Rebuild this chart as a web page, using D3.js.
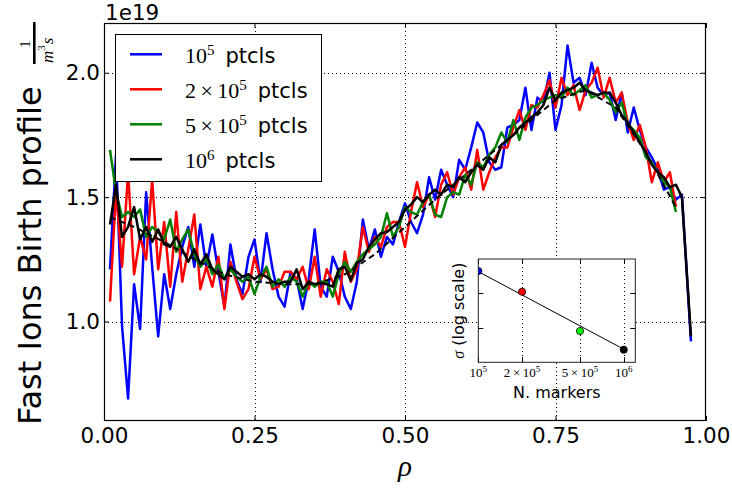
<!DOCTYPE html>
<html><head><meta charset="utf-8">
<script src="https://cdn.jsdelivr.net/npm/d3@7"></script>
<style>body{margin:0;background:#fff} svg{display:block}</style>
</head><body><svg id="c" width="732" height="489"></svg>
<script>
// ---------- data (values in units of 1e19 1/(m^3 s)) ----------
const rho = [0.01,0.02,0.03,0.04,0.05,0.06,0.07,0.08,0.09,0.10,0.11,0.12,0.13,0.14,0.15,0.16,0.17,0.18,0.19,0.20,
0.21,0.22,0.23,0.24,0.25,0.26,0.27,0.28,0.29,0.30,0.31,0.32,0.33,0.34,0.35,0.36,0.37,0.38,0.39,0.40,
0.41,0.42,0.43,0.44,0.45,0.46,0.47,0.48,0.49,0.50,0.51,0.52,0.53,0.54,0.55,0.56,0.57,0.58,0.59,0.60,
0.61,0.62,0.63,0.64,0.65,0.66,0.67,0.68,0.69,0.70,0.71,0.72,0.73,0.74,0.75,0.76,0.77,0.78,0.79,0.80,
0.81,0.82,0.83,0.84,0.85,0.86,0.87,0.88,0.89,0.90,0.91,0.92,0.93,0.94,0.95,0.96,0.975];

const p1e5 = [1.21,1.67,0.98,0.69,1.15,0.97,1.52,1.22,0.94,1.19,1.05,1.19,1.30,1.38,1.22,1.39,1.22,1.35,1.20,1.06,
1.31,1.17,1.11,1.26,1.33,1.16,1.355,1.21,1.10,1.06,1.20,1.17,1.05,1.17,1.37,1.14,1.10,1.26,1.20,1.10,
1.05,1.16,1.41,1.29,1.37,1.26,1.34,1.31,1.40,1.475,1.40,1.355,1.43,1.58,1.49,1.61,1.55,1.50,1.65,1.61,
1.70,1.80,1.76,1.64,1.61,1.62,1.78,1.79,1.81,1.94,1.77,1.90,1.88,2.00,1.77,1.87,2.11,1.96,1.98,1.91,
2.04,1.94,1.91,1.92,1.81,1.92,1.76,1.86,1.77,1.70,1.66,1.61,1.53,1.54,1.49,1.51,0.92];

const p2e5 = [1.08,1.53,1.22,1.60,1.19,1.34,1.25,1.57,1.21,1.40,1.14,1.44,1.16,1.29,1.43,1.13,1.22,1.14,1.26,1.05,
1.24,1.16,1.09,1.13,1.26,1.17,1.21,1.13,1.14,1.20,1.20,1.17,1.22,1.13,1.26,1.10,1.21,1.16,1.07,1.28,
1.16,1.21,1.38,1.28,1.34,1.30,1.38,1.40,1.40,1.30,1.44,1.56,1.46,1.51,1.42,1.55,1.60,1.51,1.58,1.62,
1.53,1.69,1.53,1.60,1.66,1.70,1.70,1.78,1.85,1.77,1.87,1.86,1.91,1.97,1.86,1.98,1.91,1.95,1.85,1.93,
1.96,2.02,1.90,1.98,1.88,1.92,1.80,1.73,1.79,1.70,1.56,1.64,1.56,1.60,1.46,null,null];

const p5e5 = [1.69,1.52,1.42,1.44,1.42,1.45,1.34,1.38,1.36,1.33,1.41,1.28,1.33,1.37,1.27,1.22,1.25,1.19,1.23,1.17,
1.21,1.18,1.16,1.18,1.11,1.18,1.22,1.14,1.17,1.14,1.18,1.16,1.10,1.16,1.14,1.16,1.16,1.10,1.19,1.24,
1.20,1.24,1.27,1.29,1.31,1.34,1.435,1.34,1.38,1.46,1.44,1.43,1.48,1.51,1.43,1.42,1.50,1.52,1.51,1.59,
1.55,1.64,1.62,1.67,1.70,1.76,1.72,1.81,1.73,1.82,1.86,1.87,1.89,1.90,1.91,1.90,1.94,1.91,1.93,1.95,
1.90,1.91,1.92,1.89,1.84,1.88,1.79,1.77,1.74,1.66,1.64,1.60,1.56,1.54,1.44,null,null];

const p1e6 = [1.39,1.55,1.34,1.38,1.46,1.33,1.38,1.32,1.37,1.31,1.30,1.34,1.29,1.24,1.29,1.23,1.27,1.21,1.19,1.17,
1.22,1.20,1.18,1.19,1.17,1.19,1.18,1.16,1.15,1.16,1.16,1.21,1.13,1.16,1.15,1.155,1.15,1.14,1.21,1.22,
1.165,1.235,1.25,1.30,1.33,1.355,1.36,1.38,1.40,1.45,1.47,1.50,1.48,1.51,1.53,1.51,1.55,1.54,1.58,1.56,
1.60,1.63,1.61,1.66,1.64,1.71,1.73,1.75,1.78,1.80,1.82,1.84,1.87,1.94,1.89,1.92,1.93,1.94,1.96,1.93,
1.92,1.91,1.92,1.92,1.88,1.83,1.80,1.76,1.72,1.68,1.63,1.60,1.58,1.54,1.55,1.50,0.94];

// smooth reference profile (dashed)
const refRho = [0.01,0.05,0.10,0.15,0.20,0.25,0.30,0.35,0.40,0.45,0.50,0.55,0.60,0.65,0.70,0.75,0.80,0.85,0.90,0.95];
const refVal = [1.42,1.38,1.32,1.25,1.19,1.16,1.15,1.15,1.19,1.27,1.38,1.49,1.59,1.69,1.79,1.89,1.93,1.86,1.68,1.46];

const seriesColors = ["#0000ff","#ff0000","#008000","#000000"];
const legendPre = ["", "2\u2009\u00d7\u200910", "5\u2009\u00d7\u200910", ""];
const legendBase = ["10","","","10"];
const legendExp = ["5","5","5","6"];

const xTicks = [0, 0.25, 0.5, 0.75, 1.0];
const yTicks = [1.0, 1.5, 2.0];

// inset data
const markersN = [1e5, 2e5, 5e5, 1e6];
const sigmaVals = [447, 112, 8.1, 2.32];
const markerColors = ["#0000ff","#ff0000","#00ff00","#000000"];
const fitN = [1e5, 1e6];
const fitSigma = [430, 2.4];
const insetXTicks = [1e5, 2e5, 5e5, 1e6];
const insetXPre = ["", "2\u2009\u00d7\u2009", "5\u2009\u00d7\u2009", ""];
const insetXExp = ["5","5","5","6"];
const insetYTicks = [10, 100];

// ---------- drawing ----------
const svg = d3.select("#c");
svg.append("rect").attr("width",732).attr("height",489).attr("fill","#fff");

const L=104, R=706, T=23, B=421;
const x = d3.scaleLinear().domain([0,1]).range([L,R]);
const y = d3.scaleLinear().domain([0.6,2.2]).range([B,T]);

const defs = svg.append("defs");
defs.append("clipPath").attr("id","plotclip").append("rect")
  .attr("x",L).attr("y",T).attr("width",R-L).attr("height",B-T);

// grid
const grid = svg.append("g").attr("stroke","#000").attr("stroke-width",1).attr("stroke-dasharray","1,3");
grid.selectAll("line.gx").data(xTicks.filter(d=>d>0&&d<1)).join("line")
  .attr("x1",d=>Math.round(x(d))+0.5).attr("x2",d=>Math.round(x(d))+0.5).attr("y1",T).attr("y2",B);
grid.selectAll("line.gy").data(yTicks).join("line")
  .attr("y1",d=>Math.round(y(d))+0.5).attr("y2",d=>Math.round(y(d))+0.5).attr("x1",L).attr("x2",R);

// series
const plot = svg.append("g").attr("clip-path","url(#plotclip)");
const line = d3.line().defined(d=>d[1]!=null).x(d=>x(d[0])).y(d=>y(d[1]));
const allSeries = [p1e5,p2e5,p5e5,p1e6];
allSeries.forEach((vals,i)=>{
  if(i===3){
    plot.append("path").datum(refRho.map((r,j)=>[r,refVal[j]]))
      .attr("d",line).attr("fill","none").attr("stroke","#000").attr("stroke-width",2)
      .attr("stroke-dasharray","6,4");
  }
  plot.append("path").datum(rho.map((r,j)=>[r,vals[j]]))
    .attr("d",line).attr("fill","none").attr("stroke",seriesColors[i])
    .attr("stroke-width",2.5).attr("stroke-linejoin","round");
});

// axes
const tickFont = "DejaVu Sans, sans-serif";
const gx = svg.append("g").attr("transform",`translate(0,${B})`)
  .call(d3.axisBottom(x).tickValues(xTicks).tickSize(-5).tickSizeOuter(0).tickPadding(7).tickFormat(d3.format(".2f")));
const gy = svg.append("g").attr("transform",`translate(${L},0)`)
  .call(d3.axisLeft(y).tickValues(yTicks).tickSize(-5).tickSizeOuter(0).tickPadding(4).tickFormat(d3.format(".1f")));
const gxt = svg.append("g").attr("transform",`translate(0,${T})`)
  .call(d3.axisTop(x).tickValues(xTicks).tickSize(-5).tickSizeOuter(0).tickFormat(""));
const gyr = svg.append("g").attr("transform",`translate(${R},0)`)
  .call(d3.axisRight(y).tickValues(yTicks).tickSize(-5).tickSizeOuter(0).tickFormat(""));
[gx,gy,gxt,gyr].forEach(g=>{
  g.select(".domain").remove();
  g.selectAll("line").attr("stroke","#000").attr("stroke-width",1);
  g.selectAll("text").attr("font-family",tickFont).attr("font-size","21.5px").attr("fill","#000");
});
svg.append("rect").attr("x",L+0.5).attr("y",T+0.5).attr("width",R-L-1).attr("height",B-T-1)
  .attr("fill","none").attr("stroke","#000").attr("stroke-width",1.2);

// offset text
svg.append("text").attr("x",105).attr("y",20).attr("font-family",tickFont).attr("font-size","21.5px").text("1e19");

// x label
svg.append("text").attr("x",405).attr("y",476).attr("text-anchor","middle")
  .attr("font-family","Liberation Serif, serif").attr("font-style","italic").attr("font-size","29px").text("\u03c1");

// y label
const yl = svg.append("g").attr("transform","translate(41,425) rotate(-90)");
yl.append("text").attr("x",0).attr("y",0).attr("font-family",tickFont).attr("font-size","32px").text("Fast Ions Birth profile");
yl.append("line").attr("x1",361).attr("x2",403).attr("y1",-6.7).attr("y2",-6.7).attr("stroke","#000").attr("stroke-width",2.6);
yl.append("text").attr("x",381).attr("y",-11).attr("text-anchor","middle")
  .attr("font-family","Liberation Serif, serif").attr("font-size","15px").text("1");
const den = yl.append("text").attr("x",362).attr("y",12).attr("font-family","Liberation Serif, serif").attr("font-style","italic").attr("font-size","17px");
den.append("tspan").text("m");
den.append("tspan").attr("font-size","11px").attr("font-style","normal").attr("dy",-8).text("3");
den.append("tspan").attr("dy",8).attr("dx",1).text("s");

// legend
const lg = svg.append("g");
lg.append("rect").attr("x",115.5).attr("y",34.5).attr("width",206).attr("height",147)
  .attr("fill","#fff").attr("stroke","#000").attr("stroke-width",1);
seriesColors.forEach((c,i)=>{
  const ly = 54.3 + 35*i;
  lg.append("line").attr("x1",130).attr("x2",162).attr("y1",ly).attr("y2",ly).attr("stroke",c).attr("stroke-width",2.5);
  const t = lg.append("text").attr("x",185).attr("y",ly+8.4).attr("font-family","Liberation Serif, serif").attr("font-size","22px");
  t.append("tspan").text(legendPre[i] + legendBase[i]);
  t.append("tspan").attr("font-size","15px").attr("dy",-8).text(legendExp[i]);
  const w = t.node().getComputedTextLength();
  lg.append("text").attr("x",185+w+11).attr("y",ly+8.4).attr("font-family",tickFont).attr("font-size","21px").text("ptcls");
});

// ---------- inset ----------
const iL=478.3, iR=635.3, iT=259, iB=362.3;
const ix = d3.scaleLog().domain([1e5,1.2e6]).range([iL,iR]);
const iy = d3.scaleLog().domain([1,1000]).range([iB,iT]);
svg.append("rect").attr("x",iL).attr("y",iT).attr("width",iR-iL).attr("height",iB-iT).attr("fill","#fff");
defs.append("clipPath").attr("id","insetclip").append("rect")
  .attr("x",iL).attr("y",iT).attr("width",iR-iL).attr("height",iB-iT);
const ig = svg.append("g");
ig.append("g").attr("stroke","#000").attr("stroke-width",1).attr("stroke-dasharray","1,3")
  .selectAll("line").data(insetXTicks.slice(1)).join("line")
  .attr("x1",d=>Math.round(ix(d))+0.5).attr("x2",d=>Math.round(ix(d))+0.5).attr("y1",iT).attr("y2",iB);
// ticks
const itick = ig.append("g").attr("stroke","#000").attr("stroke-width",1);
insetXTicks.forEach(v=>{
  const px = Math.round(ix(v))+0.5;
  itick.append("line").attr("x1",px).attr("x2",px).attr("y1",iB).attr("y2",iB-5);
  itick.append("line").attr("x1",px).attr("x2",px).attr("y1",iT).attr("y2",iT+5);
});
insetYTicks.forEach(v=>{
  const py = Math.round(iy(v))+0.5;
  itick.append("line").attr("x1",iL).attr("x2",iL+5).attr("y1",py).attr("y2",py);
  itick.append("line").attr("x1",iR).attr("x2",iR-5).attr("y1",py).attr("y2",py);
});
const ic = ig.append("g").attr("clip-path","url(#insetclip)");
ic.append("path").datum(fitN.map((n,j)=>[n,fitSigma[j]]))
  .attr("d",d3.line().x(d=>ix(d[0])).y(d=>iy(d[1]))).attr("stroke","#000").attr("stroke-width",1).attr("fill","none");
ic.selectAll("circle").data(markersN).join("circle")
  .attr("cx",d=>ix(d)).attr("cy",(d,j)=>iy(sigmaVals[j])).attr("r",3.6)
  .attr("fill",(d,j)=>markerColors[j]).attr("stroke","#000").attr("stroke-width",0.8);
ig.append("rect").attr("x",iL).attr("y",iT).attr("width",iR-iL).attr("height",iB-iT)
  .attr("fill","none").attr("stroke","#222").attr("stroke-width",1);
// inset x labels
insetXTicks.forEach((v,j)=>{
  const t = ig.append("text").attr("x",ix(v)).attr("y",377).attr("text-anchor","middle")
    .attr("font-family","Liberation Serif, serif").attr("font-size","13px");
  t.append("tspan").text(insetXPre[j] + "10");
  t.append("tspan").attr("font-size","9px").attr("dy",-5).text(insetXExp[j]);
});
ig.append("text").attr("x",(iL+iR)/2).attr("y",398).attr("text-anchor","middle")
  .attr("font-family",tickFont).attr("font-size","16px").text("N. markers");
const iyl = ig.append("text").attr("transform",`translate(464,${(iT+iB)/2}) rotate(-90)`)
  .attr("text-anchor","middle").attr("font-family",tickFont).attr("font-size","16px");
iyl.append("tspan").attr("font-family","Liberation Serif, serif").attr("font-style","italic").text("\u03c3");
iyl.append("tspan").text(" (log scale)");
</script></body></html>
